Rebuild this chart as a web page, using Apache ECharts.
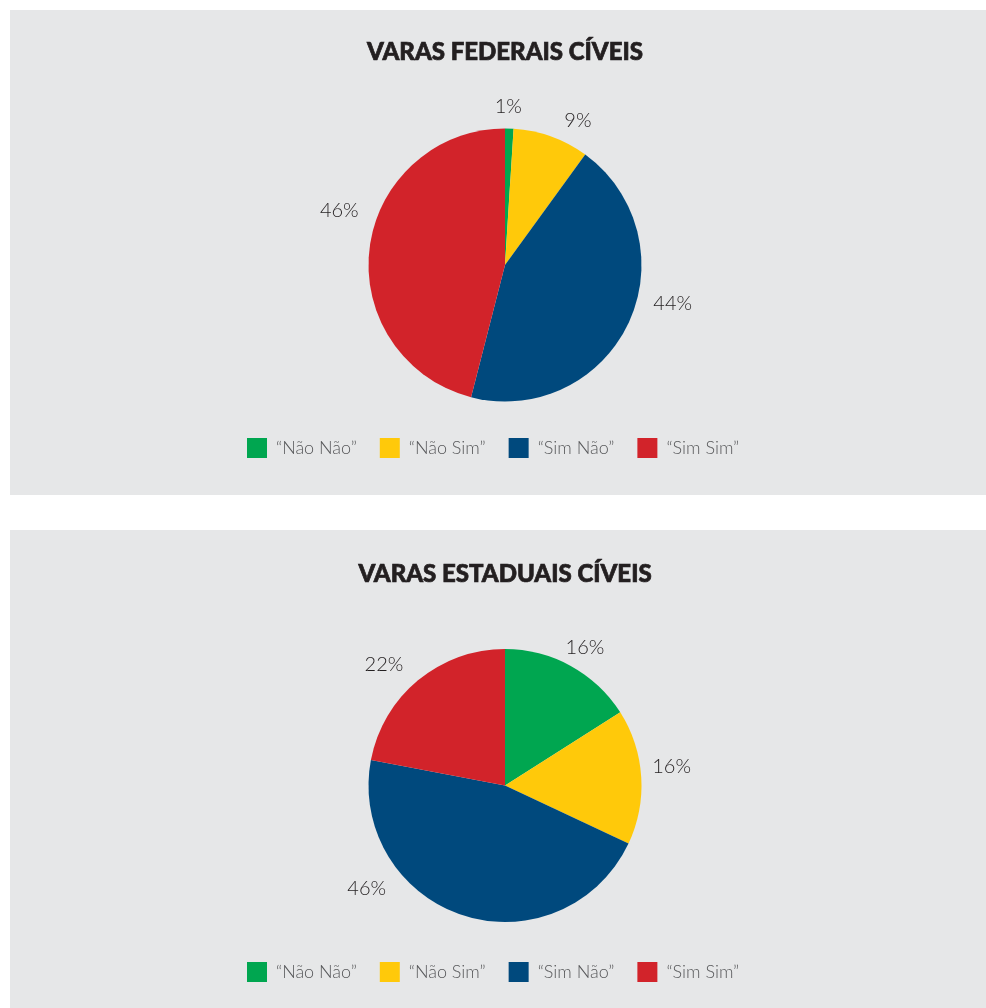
<!DOCTYPE html>
<html><head><meta charset="utf-8">
<script src="https://cdn.jsdelivr.net/npm/echarts@6/dist/echarts.min.js"></script>
<style>html,body{margin:0;padding:0;background:#fff}#c{width:986px;height:1008px}</style>
</head><body><div id="c"></div>
<script>
const categories = ['“Não Não”', '“Não Sim”', '“Sim Não”', '“Sim Sim”'];
const federalValues = [1, 9, 44, 46];
const estadualValues = [16, 16, 46, 22];
const titles = ['VARAS FEDERAIS CÍVEIS', 'VARAS ESTADUAIS CÍVEIS'];
const colors = ['#00a650', '#ffc90a', '#00497d', '#d2232a'];

// label nudges (style only), per slice
const federalLabelNudge = [[-22,-10],[2,-5],[7,-25],[8,-36]];
const estadualLabelNudge = [[-18,-8],[-8,-10],[-66,-38],[0,-7]];

const font = 'Lato, "Open Sans", sans-serif';
function mk(vals, nudge){ return vals.map((v,i)=>({name: categories[i], value: v, label: {offset: nudge[i]}})); }
function pie(vals, nudge, cy){
  return {
    type: 'pie', radius: 136.5, center: [505, cy], startAngle: 90, clockwise: true,
    data: mk(vals, nudge), silent: true, avoidLabelOverlap: false,
    itemStyle: {borderWidth: 0},
    label: {show: true, position: 'outside', formatter: '{c}%', fontFamily: font, fontWeight: 300, fontSize: 20, color: '#231f20'},
    labelLine: {show: false, length: 12, length2: 2},
    emphasis: {disabled: true}
  };
}
const titleStyle = {fontFamily: font, fontWeight: 900, fontSize: 24, color: '#231f20', textBorderColor: '#231f20', textBorderWidth: 0.7};
const chart = echarts.init(document.getElementById('c'));
chart.setOption({
  animation: false,
  color: colors,
  graphic: [
    {type: 'rect', shape: {x: 10, y: 10, width: 976, height: 485}, style: {fill: '#e6e7e8'}, z: -10},
    {type: 'rect', shape: {x: 10, y: 530, width: 976, height: 478}, style: {fill: '#e6e7e8'}, z: -10}
  ],
  title: [
    {text: titles[0], left: 505, textAlign: 'center', top: 40, padding: 0, textStyle: titleStyle},
    {text: titles[1], left: 505, textAlign: 'center', top: 562, padding: 0, textStyle: titleStyle}
  ],
  legend: [0,1].map(k=>({
    data: categories, left: 247, top: k===0 ? 438 : 962, padding: 0,
    itemWidth: 20, itemHeight: 20, itemGap: 23, icon: 'rect', selectedMode: false,
    textStyle: {fontFamily: font, fontWeight: 300, fontSize: 18, color: '#58595b', padding: [0,0,0,4]}
  })),
  series: [pie(federalValues, federalLabelNudge, 265), pie(estadualValues, estadualLabelNudge, 785.5)]
});
</script></body></html>
